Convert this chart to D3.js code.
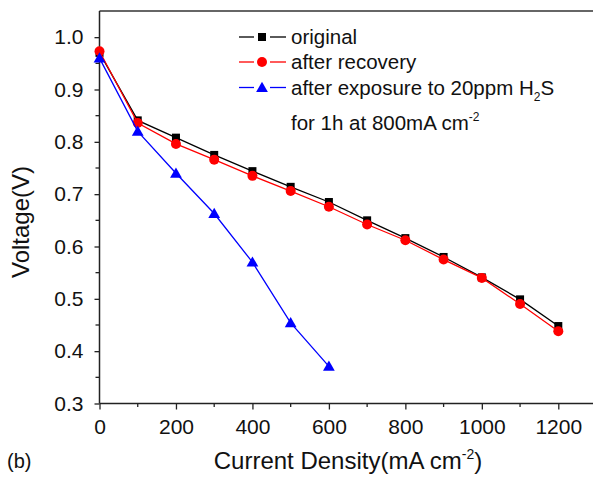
<!DOCTYPE html>
<html>
<head>
<meta charset="utf-8">
<script src="https://cdn.jsdelivr.net/npm/d3@7"></script>
<style>
  body { margin: 0; background: #fff; }
  svg { font-family: "Liberation Sans", Arial, sans-serif; }
</style>
</head>
<body>
<div id="chart"></div>
<script>
// Data
let current = [0, 100, 200, 300, 400, 500, 600, 700, 800, 900, 1000, 1100, 1200];
let original = [0.970, 0.841, 0.808, 0.775, 0.744, 0.714, 0.685, 0.650, 0.616, 0.580, 0.541, 0.499, 0.448];
let recovery = [0.973, 0.836, 0.796, 0.766, 0.735, 0.706, 0.676, 0.642, 0.612, 0.575, 0.540, 0.490, 0.438];
let exposureCurrent = [0, 100, 200, 300, 400, 500, 600];
let exposure = [0.960, 0.820, 0.740, 0.663, 0.570, 0.454, 0.371];

let xTicks = [0, 200, 400, 600, 800, 1000, 1200];
let yTicks = [0.3, 0.4, 0.5, 0.6, 0.7, 0.8, 0.9, 1.0];

let series = [
    { name: "original", xs: current, ys: original, color: "#000", shape: "square" },
    { name: "after recovery", xs: current, ys: recovery, color: "#ff0000", shape: "circle" },
    { name: "after exposure", xs: exposureCurrent, ys: exposure, color: "#0000ff", shape: "triangle" }
];

let width = 593, height = 478;
let plotLeft = 99.5, plotTop = 11, plotBottom = 403.5;

let svg = d3.select("#chart").append("svg")
    .attr("width", width)
    .attr("height", height);

let x = d3.scaleLinear().domain([0, 1200]).range([plotLeft, 558.3]);
let y = d3.scaleLinear().domain([0.3, 1.05]).range([plotBottom, plotTop]);

// frame: top border and axes
svg.append("line")
    .attr("x1", plotLeft).attr("x2", width).attr("y1", plotTop).attr("y2", plotTop)
    .attr("stroke", "#333").attr("stroke-width", 1.5);

// minor ticks
let xMinor = d3.range(100, 1300, 200);
svg.append("g").selectAll("line")
    .data(xMinor).enter().append("line")
    .attr("x1", d => x(d)).attr("x2", d => x(d))
    .attr("y1", plotBottom).attr("y2", plotBottom + 3.5)
    .attr("stroke", "#222").attr("stroke-width", 1.3);
let yMinor = d3.range(0.35, 1.0, 0.1);
svg.append("g").selectAll("line")
    .data(yMinor).enter().append("line")
    .attr("x1", plotLeft - 4).attr("x2", plotLeft)
    .attr("y1", d => y(d)).attr("y2", d => y(d))
    .attr("stroke", "#222").attr("stroke-width", 1.3);

let xAxis = svg.append("g")
    .attr("transform", `translate(0,${plotBottom})`)
    .call(d3.axisBottom(x).tickValues(xTicks).tickFormat(d3.format("d"))
        .tickSize(6).tickSizeOuter(0).tickPadding(10));
xAxis.select(".domain").attr("d", `M${plotLeft},0H${width}`);

let yAxis = svg.append("g")
    .attr("transform", `translate(${plotLeft},0)`)
    .call(d3.axisLeft(y).tickValues(yTicks).tickFormat(d3.format(".1f"))
        .tickSize(5).tickSizeOuter(0).tickPadding(11));
yAxis.select(".domain").attr("d", `M0,${plotTop}V${plotBottom}`);

svg.selectAll(".domain").attr("stroke", "#222").attr("stroke-width", 1.5);
svg.selectAll(".tick line").attr("stroke", "#222").attr("stroke-width", 1.3);
svg.selectAll(".tick text")
    .attr("font-family", "Liberation Sans, Arial, sans-serif")
    .attr("font-size", 21)
    .attr("fill", "#111");

// data lines
let line = d3.line();
function drawMarker(g, shape, cx, cy, color) {
    if (shape === "square") {
        g.append("rect").attr("x", cx - 4).attr("y", cy - 4)
            .attr("width", 8).attr("height", 8).attr("fill", color);
    } else if (shape === "circle") {
        g.append("circle").attr("cx", cx).attr("cy", cy).attr("r", 5).attr("fill", color);
    } else {
        let s = d3.symbol().type(d3.symbolTriangle).size(60);
        g.append("path").attr("d", s()).attr("transform", `translate(${cx},${cy + 1})`)
            .attr("fill", color);
    }
}

series.forEach(function(s) {
    let pts = s.xs.map((v, i) => [x(v), y(s.ys[i])]);
    let g = svg.append("g");
    g.append("path")
        .attr("d", line(pts))
        .attr("fill", "none")
        .attr("stroke", s.color)
        .attr("stroke-width", 1.3);
    pts.forEach(p => drawMarker(g, s.shape, p[0], p[1], s.color));
});

// legend
let legendRows = [
    { s: series[0], text: "original", y: 37 },
    { s: series[1], text: "after recovery", y: 62 },
    { s: series[2], text: "after exposure to 20ppm H", y: 87.5 }
];
let legend = svg.append("g");
legendRows.forEach(function(r) {
    [[239, 254], [270, 286]].forEach(function(seg) {
        legend.append("line").attr("x1", seg[0]).attr("x2", seg[1])
            .attr("y1", r.y).attr("y2", r.y)
            .attr("stroke", r.s.color).attr("stroke-width", 1.3);
    });
    drawMarker(legend, r.s.shape, 262, r.y, r.s.color);
    let t = legend.append("text")
        .attr("x", 291).attr("y", r.y + 7)
        .attr("font-size", 20.5).attr("fill", "#111")
        .text(r.text);
    if (r.s.shape === "triangle") {
        t.append("tspan").attr("dy", 6).attr("font-size", 12).text("2");
        t.append("tspan").attr("dy", -6).text("S");
    }
});
let l4 = legend.append("text")
    .attr("x", 291).attr("y", 130)
    .attr("font-size", 20.5).attr("fill", "#111")
    .text("for 1h at 800mA cm");
l4.append("tspan").attr("dy", -9).attr("font-size", 12).text("-2");

// axis titles
let xt = svg.append("text")
    .attr("x", 348).attr("y", 469)
    .attr("text-anchor", "middle")
    .attr("font-size", 24).attr("fill", "#111")
    .text("Current Density(mA cm");
xt.append("tspan").attr("dy", -10).attr("font-size", 14).text("-2");
xt.append("tspan").attr("dy", 10).text(")");

svg.append("text")
    .attr("transform", "translate(29,222) rotate(-90)")
    .attr("text-anchor", "middle")
    .attr("font-size", 24).attr("fill", "#111")
    .text("Voltage(V)");

svg.append("text")
    .attr("x", 7).attr("y", 468)
    .attr("font-size", 20).attr("fill", "#111")
    .text("(b)");
</script>
</body>
</html>
